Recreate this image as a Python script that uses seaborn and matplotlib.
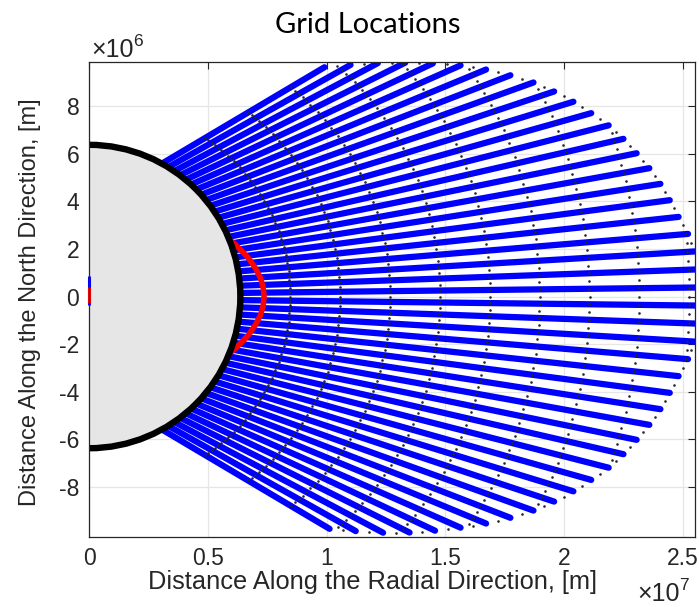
import numpy as np
import pandas as pd
import matplotlib
matplotlib.use("Agg")
import matplotlib.pyplot as plt
import seaborn as sns
from matplotlib.patches import Circle

# ---------------- data ----------------
EARTH_RADIUS = 6.371e6

# polar angle (deg) where each blue ray leaves the Earth surface
ray_theta_deg = [61.20, 58.48, 55.76, 53.04, 50.32, 47.60, 44.88, 42.16, 39.44,
                 36.72, 34.00, 31.28, 28.56, 25.84, 23.12, 20.40, 17.68, 14.96,
                 12.24, 9.52, 6.80, 4.08, 1.36,
                 -1.36, -4.08, -6.80, -9.52, -12.24, -14.96, -17.68, -20.40,
                 -23.12, -25.84, -28.56, -31.28, -34.00, -36.72, -39.44, -42.16,
                 -44.88, -47.60, -50.32, -53.04, -55.76, -58.48, -61.20]
# length of each blue ray beyond the surface (m)
ray_length_m = [7.95e6, 8.8e6, 9.7e6, 10.6e6, 11.5e6, 12.4e6, 13.2e6, 13.95e6, 14.65e6,
                15.25e6, 15.8e6, 16.3e6, 16.8e6, 17.2e6, 17.55e6, 17.9e6, 18.2e6, 18.45e6,
                18.7e6, 19.0e6, 19.2e6, 19.4e6, 19.6e6,
                19.6e6, 19.4e6, 19.2e6, 19.0e6, 18.7e6, 18.45e6, 18.2e6, 17.9e6,
                17.55e6, 17.2e6, 16.8e6, 16.3e6, 15.8e6, 15.25e6, 14.65e6, 13.95e6,
                13.2e6, 12.4e6, 11.6e6, 10.8e6, 9.95e6, 9.05e6, 8.2e6]
# spacing of the black grid markers along each ray (m)
marker_step_m = 2.1e6

# red field line (m)
red_x = [5.37e6, 5.65e6, 6.02e6, 6.35e6, 6.72e6, 7.00e6, 7.21e6, 7.33e6, 7.37e6,
         7.33e6, 7.21e6, 7.00e6, 6.72e6, 6.35e6, 6.02e6, 5.65e6, 5.37e6]
red_y = [2.80e6, 2.60e6, 2.30e6, 2.00e6, 1.60e6, 1.20e6, 0.80e6, 0.40e6, 0.0,
         -0.40e6, -0.80e6, -1.20e6, -1.60e6, -2.00e6, -2.30e6, -2.60e6, -2.80e6]

x_ticks = [0, 0.5e7, 1.0e7, 1.5e7, 2.0e7, 2.5e7]
x_tick_labels = ["0", "0.5", "1", "1.5", "2", "2.5"]
y_ticks = [-8e6, -6e6, -4e6, -2e6, 0, 2e6, 4e6, 6e6, 8e6]
y_tick_labels = ["-8", "-6", "-4", "-2", "0", "2", "4", "6", "8"]

title_text = "Grid Locations"
x_label = "Distance Along the Radial Direction, [m]"
y_label = "Distance Along the North Direction, [m]"

# ---------------- build geometry tables ----------------
def ray_points(theta_deg):
    t = np.radians(theta_deg)
    a = t / 2.0
    return EARTH_RADIUS * np.cos(t), EARTH_RADIUS * np.sin(t), np.cos(a), np.sin(a)

ray_rows = []
for i, (th, L) in enumerate(zip(ray_theta_deg, ray_length_m)):
    x0, y0, cx, cy = ray_points(th)
    ray_rows.append((i, x0, y0))
    ray_rows.append((i, x0 + L * cx, y0 + L * cy))
rays = pd.DataFrame(ray_rows, columns=["ray", "x", "y"])

# black markers on the blue rays and on the rays halfway between them
dot_rows = []
mid_theta = [(a + b) / 2 for a, b in zip(ray_theta_deg[:-1], ray_theta_deg[1:])]
mid_len = [(a + b) / 2 for a, b in zip(ray_length_m[:-1], ray_length_m[1:])]
for th, L, is_mid in ([(t, l, False) for t, l in zip(ray_theta_deg, ray_length_m)] +
                      [(t, l, True) for t, l in zip(mid_theta, mid_len)]):
    x0, y0, cx, cy = ray_points(th)
    s = marker_step_m
    while s < L:
        dot_rows.append((x0 + s * cx, y0 + s * cy))
        s += marker_step_m
    if is_mid:
        dot_rows.append((x0 + L * cx, y0 + L * cy))
dots = pd.DataFrame(dot_rows, columns=["x", "y"])
red = pd.DataFrame({"x": red_x, "y": red_y, "seg": 0})

# ---------------- figure ----------------
sns.set_theme(style="white")
plt.rcParams["font.family"] = ["Liberation Sans", "DejaVu Sans"]

fig = plt.figure(figsize=(6.99, 6.07), dpi=100)
ax = fig.add_axes([89 / 699, 1 - 537 / 607, 606 / 699, 475 / 607])

ax.set_xlim(0, 2.551e7)
ax.set_ylim(-1.01e7, 0.985e7)

sns.lineplot(data=rays, x="x", y="y", units="ray", estimator=None, sort=False,
             color="#0000ff", lw=4.5, ax=ax, legend=False, zorder=2)
sns.scatterplot(data=dots, x="x", y="y", color="#262626", s=3.5, linewidth=0,
                ax=ax, legend=False, zorder=2.2)
sns.lineplot(data=red, x="x", y="y", units="seg", estimator=None, sort=False,
             color="#ff0000", lw=4.0, ax=ax, legend=False, zorder=2.5)

earth = Circle((0, 0), EARTH_RADIUS, facecolor="#e6e6e6", edgecolor="black",
               lw=4.6, zorder=3)
ax.add_patch(earth)

# small marks at the origin on the left edge
ax.plot([0, 0], [-0.3e6, 0.8e6], color="#0000ff", lw=2.2, zorder=4, clip_on=False)
ax.plot([0, 0], [-0.25e6, 0.35e6], color="#ff0000", lw=2.2, zorder=4.1, clip_on=False)

ax.set_xticks(x_ticks)
ax.set_xticklabels(x_tick_labels)
ax.set_yticks(y_ticks)
ax.set_yticklabels(y_tick_labels)
ax.tick_params(direction="in", length=5, width=0.8, top=True, right=True,
               colors="#262626", labelsize=16.5, pad=7)
for sp in ax.spines.values():
    sp.set_color("#262626")
    sp.set_linewidth(0.9)
    sp.set_zorder(5)
ax.grid(True, color="#e6e6e6", lw=0.9)
ax.set_axisbelow(True)

ax.set_xlabel("")
ax.set_ylabel("")
fig.text(372 / 699, 1 - 582 / 607, x_label, ha="center", va="center",
         fontsize=18.3, color="#262626")
fig.text(30 / 699, 1 - 302 / 607, y_label, ha="center", va="center",
         rotation=90, fontsize=17, color="#262626")

fig.text(368 / 699, 1 - 25 / 607, title_text, ha="center", va="center",
         fontsize=21, family=["Lato", "DejaVu Sans"], color="black")

# exponent labels
fig.text(91 / 699, 1 - 57 / 607, "\u00d710", ha="left", va="baseline",
         fontsize=18, color="#262626")
fig.text(133 / 699, 1 - 46 / 607, "6", ha="left", va="baseline",
         fontsize=12.5, color="#262626")
fig.text(637 / 699, 1 - 601 / 607, "\u00d710", ha="left", va="baseline",
         fontsize=18, color="#262626")
fig.text(679 / 699, 1 - 590 / 607, "7", ha="left", va="baseline",
         fontsize=12.5, color="#262626")

fig.savefig("out.png", dpi=100)
